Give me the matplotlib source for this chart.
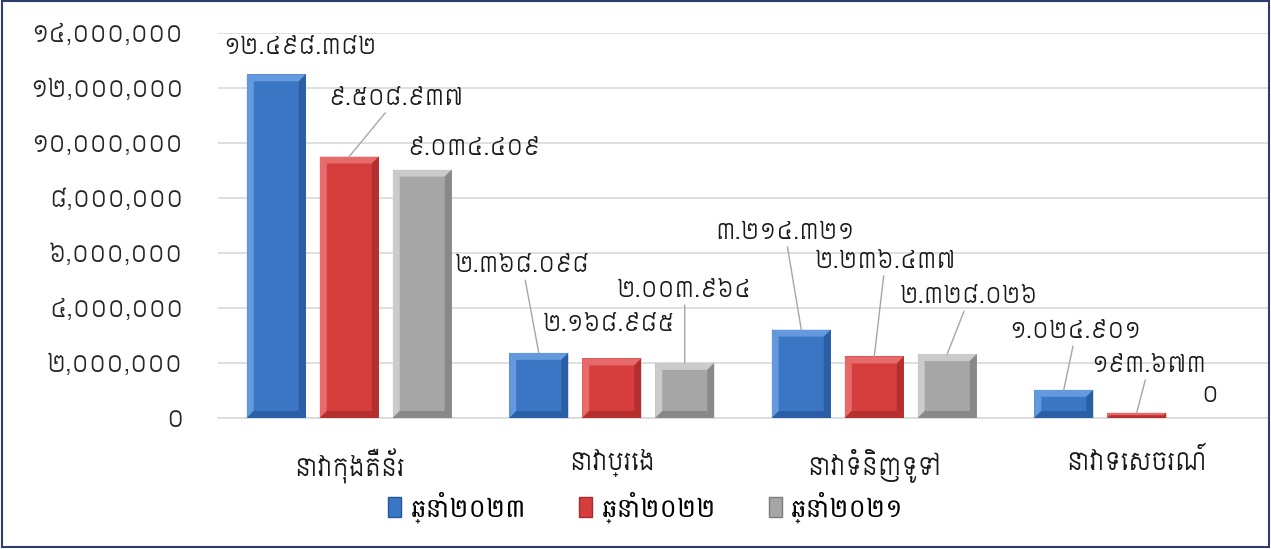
import numpy as np
import matplotlib
matplotlib.use('Agg')
import matplotlib.pyplot as plt
from matplotlib.patches import Patch, Polygon, Rectangle

plt.rcParams['font.family'] = ['Siemreap', 'Noto Sans Khmer', 'Battambang', 'DejaVu Sans']

categories = ['នាវាកុងតឺន័រ', 'នាវាប្រេង', 'នាវាទំនិញទូទៅ', 'នាវាទេសចរណ៍']
series_names = ['ឆ្នាំ២០២៣', 'ឆ្នាំ២០២២', 'ឆ្នាំ២០២១']
vals_2023 = [12498382, 2368098, 3214321, 1024901]
vals_2022 = [9508937, 2168985, 2236437, 193673]
vals_2021 = [9034409, 2003964, 2328026, 0]
yticks = [0, 2000000, 4000000, 6000000, 8000000, 10000000, 12000000, 14000000]

# face, light (top/left), dark (right/bottom)
colors = [('#3b76c4', '#78a8e8', '#24569a'),
          ('#d63d3d', '#f08080', '#a82a2a'),
          ('#a6a6a6', '#dcdcdc', '#7c7c7c')]

# label offsets from bar top in pixels, and whether a leader line is drawn
label_pos = [
    [(24, 26, False), (-16, 86, True), (-16, 96, True), (12, 57, True)],
    [(47, 57, True), (-3, 33, False), (11, 94, True), (12, 46, True)],
    [(52, 20, False), (0, 71, True), (22, 56, True), (0, 22, False)],
]

KH = str.maketrans('0123456789', '០១២៣៤៥៦៧៨៩')

fig = plt.figure(figsize=(12.71, 5.49), dpi=100)
ax = fig.add_axes([218 / 1271, 131 / 549, 1050 / 1271, 385 / 549])
ax.set_xlim(-0.5, 3.5)
ax.set_ylim(0, 14000000)

x = np.arange(len(categories))
width = 0.225
step = 0.278
series = [vals_2023, vals_2022, vals_2021]

for i, vals in enumerate(series):
    face, light, dark = colors[i]
    bars = ax.bar(x + (i - 1) * step, vals, width, color=face, zorder=3)
    for bar, v in zip(bars, vals):
        if v <= 0:
            continue
        bx, bw = bar.get_x(), bar.get_width()
        (x0, y0), (x1, y1) = ax.transData.transform([(bx, 0), (bx + bw, v)])
        b = min(7, (y1 - y0) / 2)
        inv = ax.transData.inverted()
        sides = [
            ([(x0, y1), (x1, y1), (x1 - b, y1 - b), (x0 + b, y1 - b)], light),
            ([(x0, y0), (x0, y1), (x0 + b, y1 - b), (x0 + b, y0 + b)], light),
            ([(x1, y0), (x1, y1), (x1 - b, y1 - b), (x1 - b, y0 + b)], dark),
            ([(x0, y0), (x1, y0), (x1 - b, y0 + b), (x0 + b, y0 + b)], dark),
        ]
        for pts, c in sides:
            ax.add_patch(Polygon(inv.transform(pts), closed=True, facecolor=c,
                                 edgecolor='none', alpha=0.7, zorder=4))

    for j, v in enumerate(vals):
        dx, dy, leader = label_pos[i][j]
        txt = f'{v:,}'.replace(',', '.').translate(KH)
        ax.annotate(txt, xy=(x[j] + (i - 1) * step, v), xytext=(dx, dy),
                    textcoords='offset pixels', ha='center', va='center',
                    fontsize=16, color='#1a1a1a', zorder=6,
                    arrowprops=dict(arrowstyle='-', color='#a6a6a6', lw=1,
                                    shrinkA=0, shrinkB=0) if leader else None)

ax.set_yticks(yticks)
ax.set_yticklabels([f'{t:,}'.translate(KH) for t in yticks], fontsize=16.5, color='#262626')
ax.set_xticks(x)
ax.set_xticklabels(categories, fontsize=17, color='#1a1a1a')
ax.tick_params(axis='y', length=0, pad=25)
ax.tick_params(axis='x', length=0, pad=22)
ax.grid(axis='y', color='#d9d9d9', lw=1.2)
ax.set_axisbelow(True)
for s in ['top', 'right', 'left']:
    ax.spines[s].set_visible(False)
ax.spines['bottom'].set_color('#d9d9d9')
ax.spines['bottom'].set_linewidth(1.2)

handles = [Patch(facecolor=c[0], edgecolor=c[2]) for c in colors]
fig.legend(handles, series_names, loc='center', bbox_to_anchor=(646 / 1271, 1 - 507 / 549),
           ncol=3, frameon=False, handlelength=0.5, handleheight=0.8,
           handletextpad=0.35, columnspacing=2.0,
           prop=dict(family=['Battambang', 'Siemreap', 'DejaVu Sans'], size=19))

fig.patches.append(Rectangle((0.0015, 0.003), 0.997, 0.995, transform=fig.transFigure,
                             fill=False, edgecolor='#2f3d6b', lw=1.5))

fig.savefig('out.png', dpi=100)
